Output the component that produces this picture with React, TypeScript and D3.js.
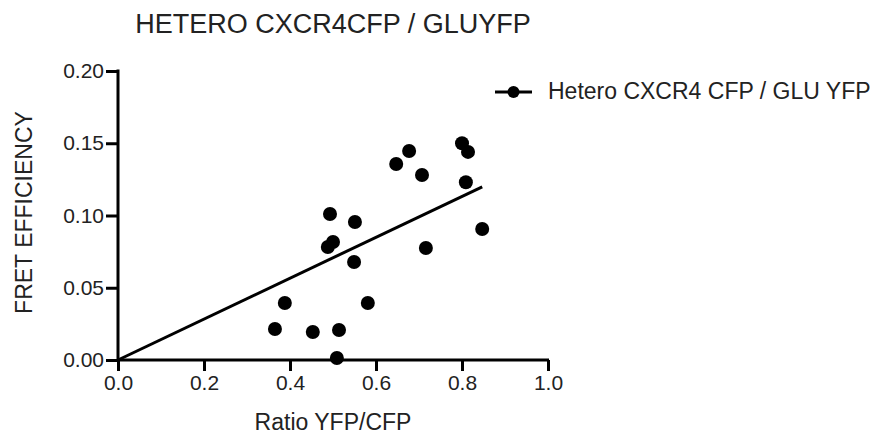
import React, { useEffect, useRef } from 'react';
import * as d3 from 'd3';

// measured points (ratio YFP/CFP, FRET efficiency)
const ratioYfpCfp = [0.365, 0.388, 0.453, 0.514, 0.509, 0.493, 0.5, 0.488, 0.549, 0.551, 0.581, 0.647, 0.677, 0.707, 0.716, 0.8, 0.814, 0.809, 0.847];
const fretEff = [0.0215, 0.0394, 0.0194, 0.0208, 0.0014, 0.101, 0.0817, 0.0782, 0.0678, 0.0955, 0.0394, 0.1356, 0.1446, 0.128, 0.0775, 0.15, 0.144, 0.123, 0.0907];

// linear fit (through origin), as drawn in the figure
const fitX = [0, 0.847];
const fitSlope = 0.1415;

const xTicks = [0, 0.2, 0.4, 0.6, 0.8, 1.0];
const yTicks = [0, 0.05, 0.1, 0.15, 0.2];

const title = 'HETERO CXCR4CFP / GLUYFP';
const xLabel = 'Ratio YFP/CFP';
const yLabel = 'FRET EFFICIENCY';
const seriesName = 'Hetero CXCR4 CFP / GLU YFP';

const W = 876;
const H = 437;
const FONT = '"Liberation Sans", Arial, Helvetica, sans-serif';

export default function App() {
  const ref = useRef<SVGSVGElement | null>(null);

  useEffect(() => {
    if (!ref.current) return;
    const svg = d3.select(ref.current);
    svg.selectAll('*').remove();

    const x = d3.scaleLinear().domain([0, 1]).range([118, 548]);
    const y = d3.scaleLinear().domain([0, 0.2]).range([360, 71]);

    const g = svg.append('g').style('font-family', FONT);

    // title
    g.append('text')
      .attr('x', (x(0) + x(1)) / 2)
      .attr('y', 33)
      .attr('text-anchor', 'middle')
      .attr('font-size', 27)
      .attr('fill', '#222')
      .text(title);

    // x axis
    const xAxis = g.append('g')
      .attr('transform', `translate(0,${y(0)})`)
      .call(d3.axisBottom(x).tickValues(xTicks).tickSize(11).tickPadding(4).tickFormat(d3.format('.1f')));
    xAxis.select('.domain').attr('stroke', '#000').attr('stroke-width', 3).attr('d', `M${x(0) - 1},0H${x(1) + 1}`);
    xAxis.selectAll('.tick line').attr('stroke', '#000').attr('stroke-width', 3);
    xAxis.selectAll('.tick text')
      .attr('font-size', 21).attr('font-family', FONT).attr('fill', '#222');

    // y axis
    const yAxis = g.append('g')
      .attr('transform', `translate(${x(0)},0)`)
      .call(d3.axisLeft(y).tickValues(yTicks).tickSize(12).tickPadding(2).tickFormat(d3.format('.2f')));
    yAxis.select('.domain').attr('stroke', '#000').attr('stroke-width', 3).attr('d', `M0,${y(0.2) - 1.5}V${y(0) + 1.5}`);
    yAxis.selectAll('.tick line').attr('stroke', '#000').attr('stroke-width', 3);
    yAxis.selectAll('.tick text')
      .attr('font-size', 21).attr('font-family', FONT).attr('fill', '#222');

    // axis labels
    g.append('text')
      .attr('x', (x(0) + x(1)) / 2)
      .attr('y', 430)
      .attr('text-anchor', 'middle')
      .attr('font-size', 23)
      .attr('fill', '#222')
      .text(xLabel);

    g.append('text')
      .attr('transform', `translate(32,${(y(0) + y(0.2)) / 2 - 3}) rotate(-90)`)
      .attr('text-anchor', 'middle')
      .attr('font-size', 23)
      .attr('fill', '#222')
      .text(yLabel);

    // fit line
    const line = d3.line<number>().x(d => x(d)).y(d => y(d * fitSlope));
    g.append('path')
      .attr('d', line(fitX))
      .attr('fill', 'none')
      .attr('stroke', '#000')
      .attr('stroke-width', 3);

    // points
    g.append('g')
      .selectAll('circle')
      .data(ratioYfpCfp.map((r, i) => [r, fretEff[i]]))
      .join('circle')
      .attr('cx', d => x(d[0]))
      .attr('cy', d => y(d[1]))
      .attr('r', 7)
      .attr('fill', '#000');

    // legend
    const lg = g.append('g').attr('transform', 'translate(495,92)');
    lg.append('line').attr('x1', 0).attr('x2', 37).attr('y1', 0).attr('y2', 0)
      .attr('stroke', '#000').attr('stroke-width', 3);
    lg.append('circle').attr('cx', 18.5).attr('cy', 0).attr('r', 6).attr('fill', '#000');
    lg.append('text')
      .attr('x', 53)
      .attr('y', 7)
      .attr('font-size', 23)
      .attr('fill', '#222')
      .text(seriesName);
  }, []);

  return (
    <svg
      ref={ref}
      width={W}
      height={H}
      style={{ position: 'absolute', left: 0, top: 0, background: '#fff', display: 'block' }}
    />
  );
}
